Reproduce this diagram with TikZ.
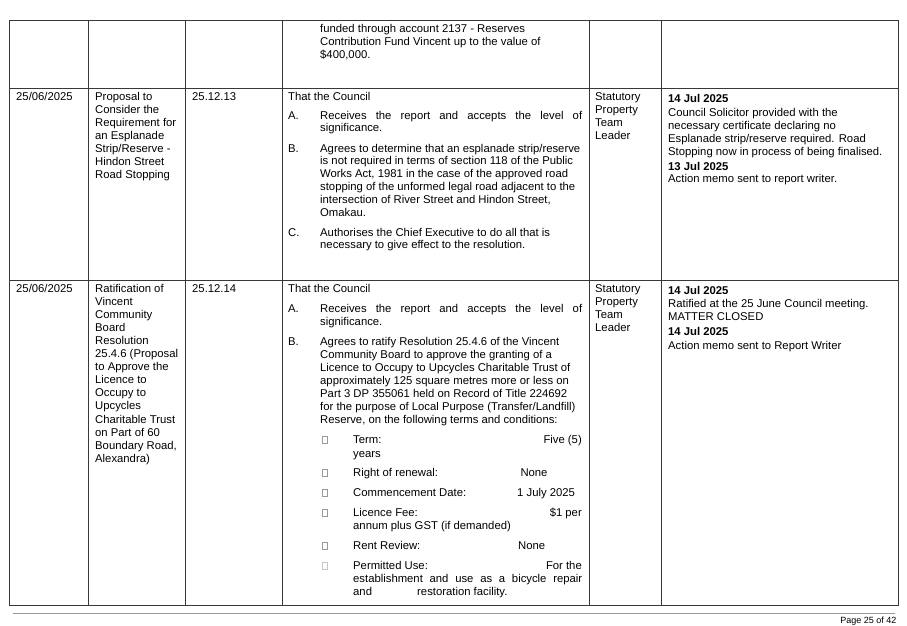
\documentclass[tikz,border=0pt]{standalone}
\usepackage{fontspec}
\setmainfont{Liberation Sans}
\newcommand\tcell[2]{\parbox[t]{400pt}{\fontsize{11.3}{#1}\selectfont\raggedright #2}}
\newcommand\jline[2]{\makebox[#1pt][s]{#2}}
\tikzset{
  grid/.style={draw=black!78, line width=1pt},
  txt/.style={anchor=base west, inner sep=0pt, font=\fontsize{11.3}{13}\selectfont},
  rtxt/.style={anchor=base east, inner sep=0pt, font=\fontsize{11.3}{13}\selectfont},
  bulletbox/.style={draw=black!40, line width=0.6pt},
  footline/.style={draw=black!40, line width=1.3pt},
}
\begin{document}
\begin{tikzpicture}[x=1pt,y=-1pt]
\useasboundingbox[fill=white] (0,0) rectangle (907,626);
% table grid
\draw[grid] (9,21) rectangle (898,605);
\draw[grid] (9,88) -- (898,88);
\draw[grid] (9,280.5) -- (898,280.5);
\foreach \x in {88.3,185,282,589,661.5} \draw[grid] (\x,21) -- (\x,605);
% row 0 (continuation)
\node[txt] (r0d) at (320,33) {\tcell{12.8}{funded through account 2137 - Reserves\\Contribution Fund Vincent up to the value of\\\$400,000.}};
% row 1
\node[txt] (r1a) at (16,100) {25/06/2025};
\node[txt] (r1b) at (95,100) {\tcell{13}{Proposal to\\Consider the\\Requirement for\\an Esplanade\\Strip/Reserve -\\Hindon Street\\Road Stopping}};
\node[txt] (r1c) at (192,100) {25.12.13};
\node[txt] (r1d) at (288,100) {That the Council};
\node[txt] (r1dAl) at (288,119) {A.};
\node[txt] (r1dA) at (320,119) {\tcell{12.8}{\jline{262}{Receives the report and accepts the level of}\\significance.}};
\node[txt] (r1dBl) at (288,152) {B.};
\node[txt] (r1dB) at (320,152) {\tcell{12.8}{Agrees to determine that an esplanade strip/reserve\\is not required in terms of section 118 of the Public\\Works Act, 1981 in the case of the approved road\\stopping of the unformed legal road adjacent to the\\intersection of River Street and Hindon Street,\\Omakau.}};
\node[txt] (r1dCl) at (288,236) {C.};
\node[txt] (r1dC) at (320,236) {\tcell{12.8}{Authorises the Chief Executive to do all that is\\necessary to give effect to the resolution.}};
\node[txt] (r1e) at (595,100) {\tcell{13}{Statutory\\Property\\Team\\Leader}};
\node[txt] (r1f1) at (668,102.5) {\textbf{14 Jul 2025}};
\node[txt] (r1f2) at (668,116) {\tcell{13}{Council Solicitor provided with the\\necessary certificate declaring no\\Esplanade strip/reserve required. Road\\Stopping now in process of being finalised.}};
\node[txt] (r1f3) at (668,170) {\textbf{13 Jul 2025}};
\node[txt] (r1f4) at (668,182.5) {Action memo sent to report writer.};
% row 2
\node[txt] (r2a) at (16,292.3) {25/06/2025};
\node[txt] (r2b) at (95,292.3) {\tcell{13.07}{Ratification of\\Vincent\\Community\\Board\\Resolution\\25.4.6 (Proposal\\to Approve the\\Licence to\\Occupy to\\Upcycles\\Charitable Trust\\on Part of 60\\Boundary Road,\\Alexandra)}};
\node[txt] (r2c) at (192,292.3) {25.12.14};
\node[txt] (r2d) at (288,292.3) {That the Council};
\node[txt] (r2dAl) at (288,312.3) {A.};
\node[txt] (r2dA) at (320,312.3) {\tcell{13.2}{\jline{262}{Receives the report and accepts the level of}\\significance.}};
\node[txt] (r2dBl) at (288,345.3) {B.};
\node[txt] (r2dB) at (320,345.3) {\tcell{13.07}{Agrees to ratify Resolution 25.4.6 of the Vincent\\Community Board to approve the granting of a\\Licence to Occupy to Upcycles Charitable Trust of\\approximately 125 square metres more or less on\\Part 3 DP 355061 held on Record of Title 224692\\for the purpose of Local Purpose (Transfer/Landfill)\\Reserve, on the following terms and conditions:}};
% bullets
\foreach \y in {443.7,476.7,496.7,516.3,549.7} \draw[bulletbox] (322,\y-7) rectangle (327.5,\y-0.5);
\draw[bulletbox, draw=black!22] (322,562.7) rectangle (327.5,569.2);
\node[txt] (t1) at (353,443.7) {Term:};
\node[rtxt] (t1v) at (582,443.7) {Five (5)};
\node[txt] (t1b) at (353,457) {years};
\node[txt] (t2) at (353,476.7) {Right of renewal:};
\node[txt] (t2v) at (520.3,476.7) {None};
\node[txt] (t3) at (353,496.7) {Commencement Date:};
\node[txt] (t3v) at (517,496.7) {1 July 2025};
\node[txt] (t4) at (353,516.3) {Licence Fee:};
\node[rtxt] (t4v) at (582,516.3) {\$1 per};
\node[txt] (t4b) at (353,529.7) {annum plus GST (if demanded)};
\node[txt] (t5) at (353,549.7) {Rent Review:};
\node[txt] (t5v) at (518,549.7) {None};
\node[txt] (t6) at (353,569.7) {Permitted Use:};
\node[rtxt] (t6v) at (582,569.7) {For the};
\node[txt] (t6b) at (353,582.7) {\jline{229}{establishment and use as a bicycle repair}};
\node[txt] (t6c) at (353,595.7) {and};
\node[txt] (t6d) at (417,595.7) {restoration facility.};
\node[txt] (r2e) at (595,292.3) {\tcell{13.1}{Statutory\\Property\\Team\\Leader}};
\node[txt] (r2f1) at (668,294.3) {\textbf{14 Jul 2025}};
\node[txt] (r2f2) at (668,307.7) {\tcell{12.8}{Ratified at the 25 June Council meeting.\\MATTER CLOSED}};
\node[txt] (r2f3) at (668,335.7) {\textbf{14 Jul 2025}};
\node[txt] (r2f4) at (668,349) {Action memo sent to Report Writer};
% footer
\draw[footline] (13,613.3) -- (895,613.3);
\node[anchor=base east, inner sep=0pt, font=\fontsize{9}{11}\selectfont] (page) at (896.7,623) {Page 25 of 42};
\end{tikzpicture}
\end{document}
